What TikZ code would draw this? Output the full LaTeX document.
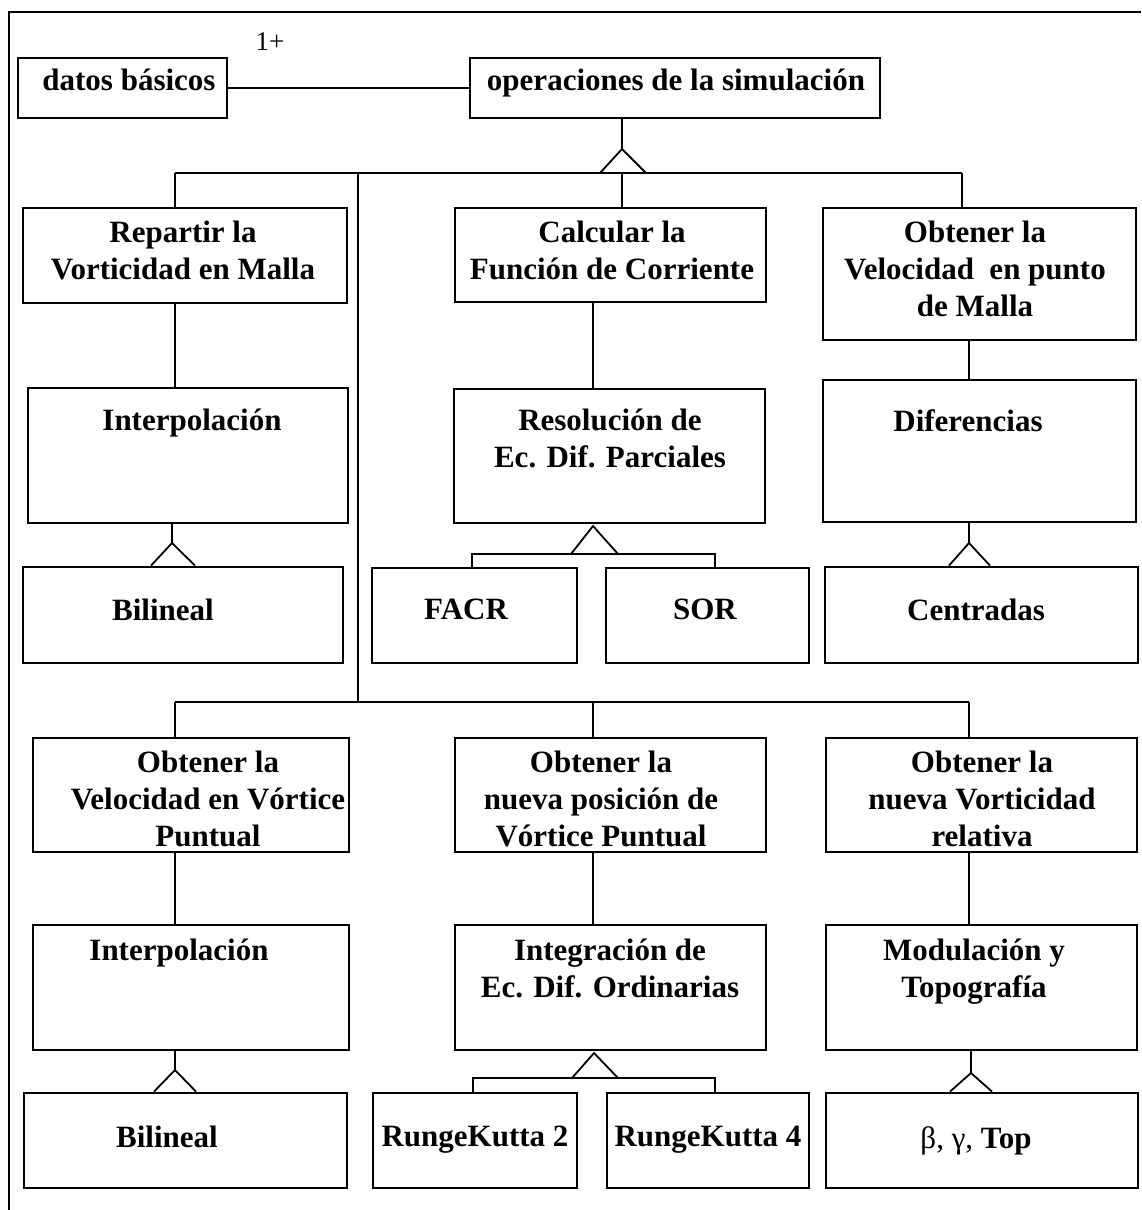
\documentclass[tikz,border=0pt]{standalone}
\usepackage{fontspec}
\setmainfont{Liberation Serif}
\usetikzlibrary{fit, calc}
\tikzset{
  box/.style   = {draw, rectangle, line width=1.4pt, inner sep=0pt},
  txt/.style   = {anchor=north, align=center, inner sep=0pt,
                  font=\fontsize{15.5}{18.5}\selectfont\bfseries},
  conn/.style  = {line width=0.9pt},
  thin/.style  = {line width=0.6pt},
  frame/.style = {line width=0.9pt},
  lbl/.style   = {font=\fontsize{13.5}{15}\selectfont}
}

\begin{document}
\begin{tikzpicture}[x=0.5pt, y=-0.5pt]
  \useasboundingbox (0,0) rectangle (1141,1210);

  % ── Frame ───────────────────────────────────────────────────────────────
  \draw[frame] (1141,12) -- (9,12) -- (9,1210);

  % ── Top row ─────────────────────────────────────────────────────────────
  \node[box, fit={(18,58) (227,118)}]  (datos) {};
  \node[txt] (datosT) at (129,69) {datos básicos};
  \node[box, fit={(470,58) (880,118)}] (ops) {};
  \node[txt] (opsT) at (676,69) {operaciones de la simulación};
  \node[lbl] (mult) at (270,42) {1+};

  % ── First level ─────────────────────────────────────────────────────────
  \node[box, fit={(23,208) (347,303)}]   (rep) {};
  \node[txt] (repT) at (183,221) {Repartir la\\Vorticidad en Malla};
  \node[box, fit={(455,208) (766,302)}]  (cal) {};
  \node[txt] (calT) at (612,221) {Calcular la\\Función de Corriente};
  \node[box, fit={(823,208) (1136,340)}] (vel) {};
  \node[txt] (velT) at (975,221) {Obtener la\\Velocidad\ \ en punto\\de Malla};

  \node[box, fit={(28,388) (348,523)}]   (interpA) {};
  \node[txt] (interpAT) at (192,409) {Interpolación};
  \node[box, fit={(454,389) (765,523)}]  (resol) {};
  \node[txt] (resolT) at (610,409) {Resolución de\\Ec. Dif. Parciales};
  \node[box, fit={(823,380) (1136,522)}] (difer) {};
  \node[txt] (diferT) at (968,409) {Diferencias};

  \node[box, fit={(23,567) (343,663)}]   (bilA) {};
  \node[txt] (bilAT) at (163,599) {Bilineal};
  \node[box, fit={(372,568) (577,663)}]  (facr) {};
  \node[txt] (facrT) at (466,599) {FACR};
  \node[box, fit={(606,568) (809,663)}]  (sor) {};
  \node[txt] (sorT) at (705,599) {SOR};
  \node[box, fit={(825,567) (1138,663)}] (centr) {};
  \node[txt] (centrT) at (976,599) {Centradas};

  % ── Second level ────────────────────────────────────────────────────────
  \node[box, fit={(33,738) (349,852)}]   (vvort) {};
  \node[txt] (vvortT) at (208,751) {Obtener la\\Velocidad en Vórtice\\Puntual};
  \node[box, fit={(455,738) (766,852)}]  (npos) {};
  \node[txt] (nposT) at (601,751) {Obtener la\\nueva posición de\\Vórtice Puntual};
  \node[box, fit={(826,738) (1137,852)}] (nvort) {};
  \node[txt] (nvortT) at (982,751) {Obtener la\\nueva Vorticidad\\relativa};

  \node[box, fit={(33,925) (349,1050)}]   (interpB) {};
  \node[txt] (interpBT) at (179,939) {Interpolación};
  \node[box, fit={(455,925) (766,1050)}]  (integ) {};
  \node[txt] (integT) at (610,939) {Integración de\\Ec. Dif. Ordinarias};
  \node[box, fit={(826,925) (1137,1050)}] (modul) {};
  \node[txt] (modulT) at (974,939) {Modulación y\\Topografía};

  \node[box, fit={(24,1093) (347,1188)}]   (bilB) {};
  \node[txt] (bilBT) at (167,1126) {Bilineal};
  \node[box, fit={(373,1093) (577,1188)}]  (rkA) {};
  \node[txt] (rkAT) at (475,1126) {RungeKutta 2};
  \node[box, fit={(607,1093) (809,1188)}]  (rkB) {};
  \node[txt] (rkBT) at (708,1126) {RungeKutta 4};
  \node[box, fit={(826,1093) (1138,1188)}] (btop) {};
  \node[txt] (btopT) at (976,1126) {{\mdseries β, γ,} Top};

  % ── Connections ─────────────────────────────────────────────────────────
  \draw[conn] (datos.east) -- (ops.west);

  % operaciones -> first row (crow's foot + bar)
  \coordinate (apex0) at (622,149);
  \draw[conn] (622,0 |- ops.south) -- (apex0);
  \draw[conn] (600,173) -- (apex0) -- (646,173);
  \draw[conn] (175,173) -- (962,173);
  \draw[conn] (175,173) -- (175,0 |- rep.north);
  \draw[conn] (622,173) -- (622,0 |- cal.north);
  \draw[conn] (962,173) -- (962,0 |- vel.north);
  \draw[conn] (358,173) -- (358,702);
  \draw[conn] (175,702) -- (969,702);
  \draw[conn] (175,702) -- (175,0 |- vvort.north);
  \draw[conn] (593,702) -- (593,0 |- npos.north);
  \draw[conn] (969,702) -- (969,0 |- nvort.north);

  % first row -> methods
  \draw[conn] (175,0 |- rep.south)  -- (175,0 |- interpA.north);
  \draw[conn] (593,0 |- cal.south)  -- (593,0 |- resol.north);
  \draw[conn] (969,0 |- vel.south)  -- (969,0 |- difer.north);

  \draw[conn] (172,0 |- interpA.south) -- (172,543) coordinate (apexA);
  \draw[conn] (151,0 |- bilA.north) -- (apexA) -- (195,0 |- bilA.north);

  \coordinate (apexR) at (593,526);
  \draw[conn] (571,554) -- (apexR) -- (618,554);
  \draw[thin] (472,0 |- facr.north) -- (472,554) -- (715,554) -- (715,0 |- sor.north);

  \draw[conn] (969,0 |- difer.south) -- (969,543) coordinate (apexD);
  \draw[conn] (949,0 |- centr.north) -- (apexD) -- (990,0 |- centr.north);

  % second row -> methods
  \draw[conn] (175,0 |- vvort.south) -- (175,0 |- interpB.north);
  \draw[conn] (593,0 |- npos.south)  -- (593,0 |- integ.north);
  \draw[conn] (969,0 |- nvort.south) -- (969,0 |- modul.north);

  \draw[conn] (175,0 |- interpB.south) -- (175,1070) coordinate (apexB);
  \draw[conn] (154,0 |- bilB.north) -- (apexB) -- (196,0 |- bilB.north);

  \coordinate (apexI) at (594,1053);
  \draw[conn] (572,1078) -- (apexI) -- (618,1078);
  \draw[thin] (473,0 |- rkA.north) -- (473,1078) -- (715,1078) -- (715,0 |- rkB.north);

  \draw[conn] (971,0 |- modul.south) -- (971,1073) coordinate (apexM);
  \draw[conn] (950,0 |- btop.north) -- (apexM) -- (992,0 |- btop.north);

\end{tikzpicture}
\end{document}
